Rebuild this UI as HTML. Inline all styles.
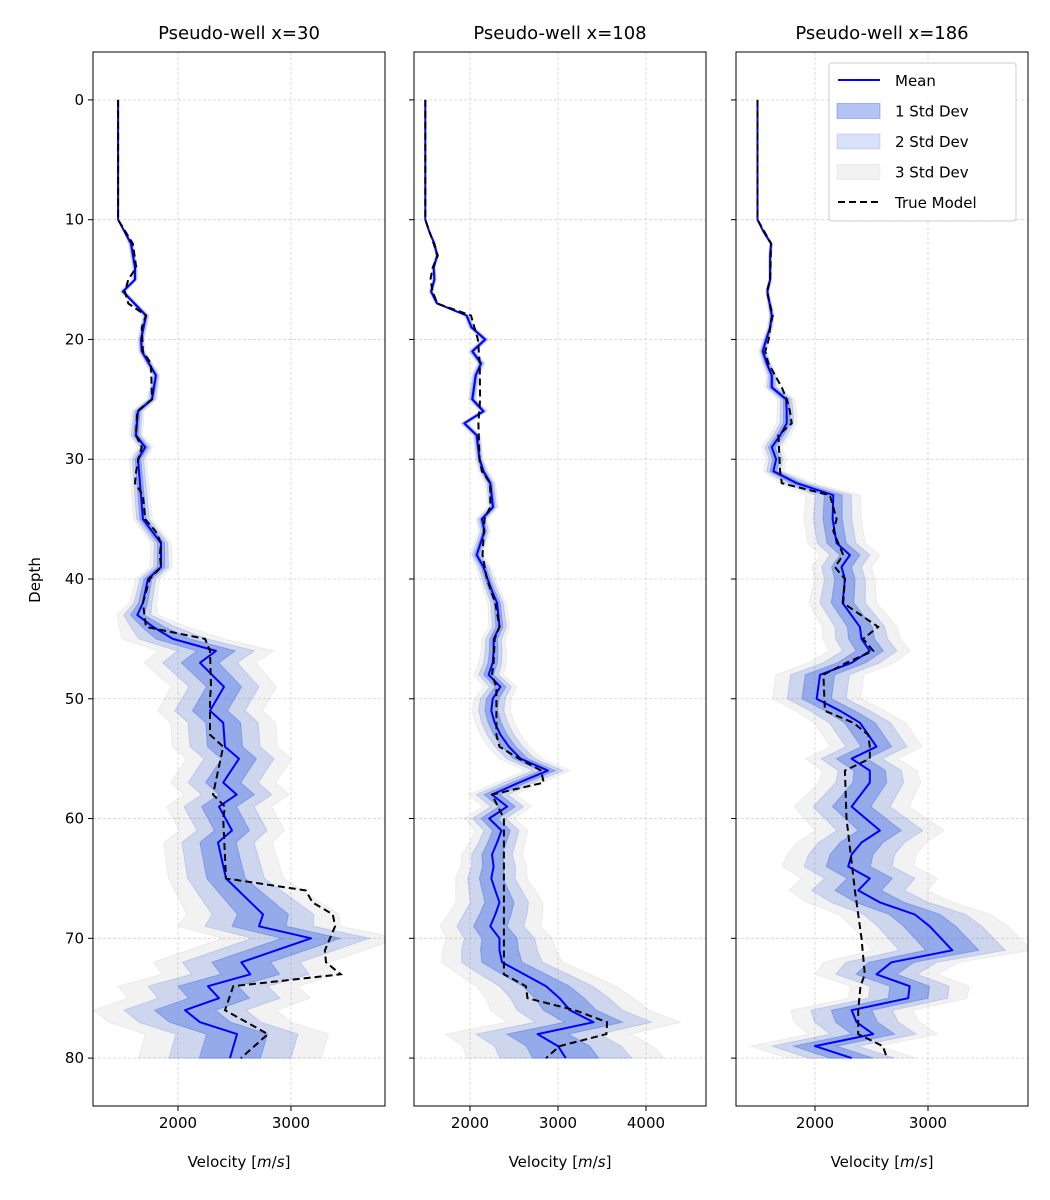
<!DOCTYPE html>
<html><head><meta charset="utf-8">
<style>
html,body{margin:0;padding:0;background:#fff;}
svg{display:block;font-family:"DejaVu Sans","Liberation Sans",sans-serif;}
</style></head>
<body>
<svg id="fig" width="1050" height="1200" viewBox="0 0 1050 1200" xmlns="http://www.w3.org/2000/svg"></svg>
<script>
// ---- data: well 1 (x=30) ----
const meanDepth1=[0,10,12,14,15,16,18,20,21,23,25,26,28,29,30,35,37,39,40,42,43,44,45,46,47,49,51,52,54,55,57,58,59,61,62,65,68,69,70,72,73,74,75,76,77,78,80];
const mean1=[1470,1470,1584,1620,1620,1513,1717,1673,1680,1805,1770,1646,1628,1710,1646,1690,1850,1850,1734,1690,1640,1780,1955,2336,2195,2407,2283,2400,2416,2540,2400,2520,2363,2478,2354,2425,2752,2717,3177,2560,2640,2265,2363,2062,2195,2522,2460];
const std1=[0,0,8,8,8,8,10,10,10,12,15,18,20,22,25,28,30,33,35,40,60,100,150,170,165,155,155,155,155,155,155,155,155,155,160,170,225,240,260,260,260,265,270,270,270,270,270];
const trueDepth1=[0,10,12,14,15,16,17,18,19,21,22,25,26,28,29,30,31,32,33,35,36,37,38,39,40,42,44,45,46,49,50,53,54,58,59,60,65,66,67,68,69,71,72,73,74,76,78,80];
const true1=[1470,1470,1600,1630,1560,1530,1560,1717,1680,1690,1760,1770,1640,1628,1680,1650,1630,1620,1690,1710,1800,1850,1840,1850,1750,1690,1717,2240,2283,2292,2283,2283,2400,2310,2416,2400,2425,3130,3190,3370,3390,3300,3310,3440,2490,2416,2796,2558];
// ---- data: well 2 (x=108) ----
const meanDepth2=[0,10,11,12,13,14,15,16,17,18,19,20,21,22,23,25,26,27,28,30,31,32,34,35,36,38,39,40,41,42,44,45,46,47,48,49,50,51,52,53,54,55,56,57,58,59,60,61,62,63,64,65,66,67,68,69,70,71,72,73,74,75,76,77,78,79,80];
const mean2=[1492,1492,1538,1596,1627,1588,1596,1558,1627,1962,2019,2173,2027,2127,2065,2027,2154,1935,2077,2108,2154,2231,2262,2135,2165,2077,2154,2200,2250,2308,2335,2269,2269,2258,2212,2346,2258,2242,2281,2346,2442,2577,2885,2558,2250,2423,2219,2358,2308,2250,2269,2242,2288,2335,2288,2231,2335,2335,2365,2615,2865,3019,3135,3404,2769,3000,3088];
const std2=[0,0,3,5,6,7,8,8,8,10,12,15,15,15,15,15,15,15,15,15,18,20,20,22,22,25,28,30,32,35,40,45,48,52,56,62,70,72,74,76,78,80,85,85,90,92,95,100,105,115,125,135,150,165,180,190,200,215,230,250,265,280,300,330,350,360,375];
const trueDepth2=[0,10,13,14,15,16,17,18,20,22,25,27,30,31,32,34,35,38,40,42,44,45,47,48,49,53,54,55,56,57,58,60,73,74,75,76,77,78,79,80];
const true2=[1492,1492,1635,1577,1550,1577,1627,2012,2090,2110,2115,2096,2108,2135,2231,2231,2165,2142,2192,2288,2335,2281,2269,2250,2300,2300,2335,2558,2808,2838,2250,2385,2385,2635,2654,3192,3558,3550,3019,2865];
// ---- data: well 3 (x=186) ----
const meanDepth3=[0,10,11,12,13,15,16,18,19,20,21,22,23,24,25,26,27,28,29,30,31,32,33,35,37,38,39,40,42,44,45,46,47,48,50,51,52,54,55,56,57,59,61,62,63,64,65,66,67,68,69,71,72,73,74,75,76,77,78,79,80];
const mean3=[1491,1491,1544,1612,1603,1603,1579,1618,1603,1568,1538,1574,1618,1618,1744,1750,1750,1691,1618,1656,1632,1838,2162,2156,2191,2309,2235,2265,2244,2397,2412,2485,2324,2044,2015,2221,2397,2544,2324,2485,2485,2324,2574,2412,2324,2294,2485,2382,2574,2882,3015,3215,2676,2544,2838,2824,2324,2368,2515,2000,2324];
const std3=[0,0,3,5,5,5,5,8,8,10,12,14,16,20,25,28,30,30,30,30,30,50,80,85,85,88,88,90,100,110,115,120,125,130,130,132,135,135,135,140,150,170,190,190,190,195,200,205,215,225,230,235,200,180,175,175,180,185,190,190,190];
const trueDepth3=[0,10,12,15,16,18,19,20,21,22,23,24,25,26,27,28,31,32,33,35,36,38,39,40,42,44,45,46,47,48,51,52,53,54,55,56,60,66,70,73,74,76,78,79,80];
const true3=[1491,1491,1612,1603,1574,1626,1603,1590,1559,1588,1647,1706,1750,1779,1794,1676,1691,1706,2132,2191,2162,2250,2176,2265,2250,2559,2426,2515,2279,2074,2088,2338,2471,2485,2485,2265,2279,2353,2412,2441,2403,2382,2382,2600,2638];
const titles=["Pseudo-well x=30","Pseudo-well x=108","Pseudo-well x=186"];
const xTicks1=[2000,3000];
const xTicks2=[2000,3000,4000];
const xTicks3=[2000,3000];
const yTicks=[0,10,20,30,40,50,60,70,80];

const NS="http://www.w3.org/2000/svg";
const svg=document.getElementById('fig');
function mk(tag,attrs,parent){const e=document.createElementNS(NS,tag);for(const k in attrs)e.setAttribute(k,attrs[k]);(parent||svg).appendChild(e);return e;}

const plotTop=52,plotBot=1106;
const dMin=-4,dMax=84;
function yScale(d){return plotTop+(d-dMin)/(dMax-dMin)*(plotBot-plotTop);}

const panels=[
 {x0:93,x1:385,vMin:1248,vMax:3832,md:meanDepth1,m:mean1,s:std1,td:trueDepth1,t:true1,ticks:xTicks1},
 {x0:414,x1:706,vMin:1364,vMax:4682,md:meanDepth2,m:mean2,s:std2,td:trueDepth2,t:true2,ticks:xTicks2},
 {x0:736,x1:1028,vMin:1301,vMax:3885,md:meanDepth3,m:mean3,s:std3,td:trueDepth3,t:true3,ticks:xTicks3}
];

panels.forEach((p,pi)=>{
  const g=mk('g',{});
  
  
  const xs=v=>p.x0+(v-p.vMin)/(p.vMax-p.vMin)*(p.x1-p.x0);
  const clipId='clip'+pi;
  const cp=mk('clipPath',{id:clipId},g);
  mk('rect',{x:p.x0,y:plotTop,width:p.x1-p.x0,height:plotBot-plotTop},cp);
  p.ticks.forEach(v=>{const l=mk('line',{x1:xs(v),x2:xs(v),y1:plotTop,y2:plotBot,stroke:'#d3d3d3','stroke-width':0.8,'stroke-dasharray':'3,2'},g);
    });
  yTicks.forEach(d=>{const l=mk('line',{x1:p.x0,x2:p.x1,y1:yScale(d),y2:yScale(d),stroke:'#d3d3d3','stroke-width':0.8,'stroke-dasharray':'3,2'},g);
    });
  const data=mk('g',{'clip-path':'url(#'+clipId+')'},g);
  const bands=[[3,'rgba(128,128,128,0.1)','band-3-std'],[2,'rgba(65,105,225,0.2)','band-2-std'],[1,'rgba(65,105,225,0.4)','band-1-std']];
  bands.forEach(([k,col,nm])=>{
    let pts=[];
    for(let i=0;i<p.md.length;i++)pts.push(xs(p.m[i]-k*p.s[i]).toFixed(1)+','+yScale(p.md[i]).toFixed(1));
    for(let i=p.md.length-1;i>=0;i--)pts.push(xs(p.m[i]+k*p.s[i]).toFixed(1)+','+yScale(p.md[i]).toFixed(1));
    const pg=mk('polygon',{points:pts.join(' '),fill:col,stroke:col,'stroke-width':1},data);
    
  });
  const mp=p.md.map((d,i)=>xs(p.m[i]).toFixed(1)+','+yScale(d).toFixed(1)).join(' ');
  const ml=mk('polyline',{points:mp,fill:'none',stroke:'#0000ff','stroke-width':2,'stroke-linejoin':'round'},data);
  
  const tp=p.td.map((d,i)=>xs(p.t[i]).toFixed(1)+','+yScale(d).toFixed(1)).join(' ');
  const tl=mk('polyline',{points:tp,fill:'none',stroke:'#000','stroke-width':2,'stroke-dasharray':'7,4'},data);
  
  const fr=mk('rect',{x:p.x0,y:plotTop,width:p.x1-p.x0,height:plotBot-plotTop,fill:'none',stroke:'#000','stroke-width':1},g);
  
  p.ticks.forEach(v=>{
    mk('line',{x1:xs(v),x2:xs(v),y1:plotBot,y2:plotBot+5,stroke:'#000','stroke-width':1},g);
    const t=mk('text',{x:xs(v),y:plotBot+22,'text-anchor':'middle','font-size':15,fill:'#000'},g);
    t.textContent=v;
    
    
  });
  yTicks.forEach(d=>{
    mk('line',{x1:p.x0-5,x2:p.x0,y1:yScale(d),y2:yScale(d),stroke:'#000','stroke-width':1},g);
    if(pi===0){const t=mk('text',{x:p.x0-9,y:yScale(d)+5,'text-anchor':'end','font-size':15,fill:'#000'},g);
      t.textContent=d;
      
      }
  });
  const xl=mk('text',{x:(p.x0+p.x1)/2,y:1167,'text-anchor':'middle','font-size':15,fill:'#000'},g);
  xl.innerHTML='Velocity [<tspan font-style="italic">m</tspan>/<tspan font-style="italic">s</tspan>]';
  
  
  const tt=mk('text',{x:(p.x0+p.x1)/2,y:39,'text-anchor':'middle','font-size':18,fill:'#000'},g);
  tt.textContent=titles[pi];
  
  
});
const yl=mk('text',{x:40,y:580,'text-anchor':'middle','font-size':15,fill:'#000',transform:'rotate(-90 40 580)'});
yl.textContent='Depth';



const lg=mk('g',{});


mk('rect',{x:829,y:63,width:187,height:158,rx:3,fill:'rgba(255,255,255,0.85)',stroke:'#ccc','stroke-width':1},lg);
const entries=[['Mean','line'],['1 Std Dev','rgba(65,105,225,0.4)'],['2 Std Dev','rgba(65,105,225,0.2)'],['3 Std Dev','rgba(128,128,128,0.1)'],['True Model','dash']];
entries.forEach((e,i)=>{
  const y=80+i*30.5;
  const eg=mk('g',{},lg);
  
  
  if(e[1]==='line')mk('line',{x1:838,x2:880,y1:y,y2:y,stroke:'#0000ff','stroke-width':2},eg);
  else if(e[1]==='dash')mk('line',{x1:838,x2:880,y1:y,y2:y,stroke:'#000','stroke-width':2,'stroke-dasharray':'7,4'},eg);
  else mk('rect',{x:837,y:y-7,width:43,height:15,fill:e[1],stroke:e[1],'stroke-width':1},eg);
  const t=mk('text',{x:895,y:y+6,'font-size':15,fill:'#000'},eg);t.textContent=e[0];
});
</script>
</body></html>
